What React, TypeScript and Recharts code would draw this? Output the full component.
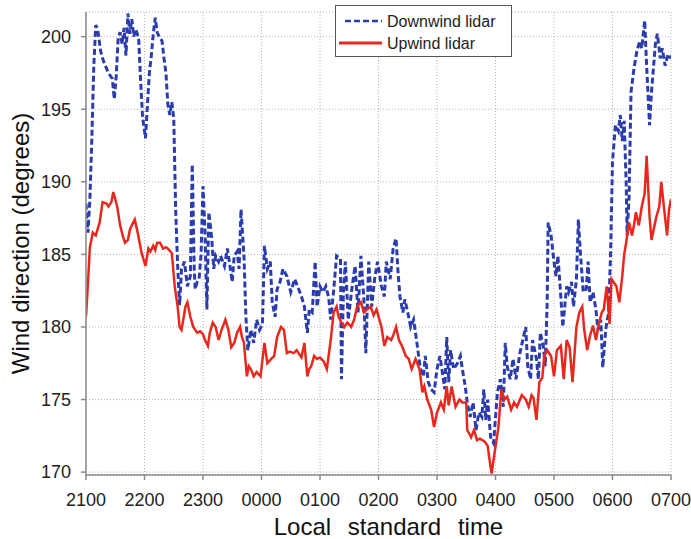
import React from 'react';
import { LineChart, Line, XAxis, YAxis, CartesianGrid, Legend, Label } from 'recharts';

// minutes after 2100 local standard time
const downwindMinutes = [
  0, 2, 4, 6, 8, 10, 12, 15, 18, 23, 27, 29, 31, 33, 35, 37, 39, 41, 43, 45, 47, 49, 51, 54, 56, 58,
  61, 63, 65, 67, 69, 71, 73, 75, 78, 80, 82, 84, 86, 88, 90, 92, 94, 96, 98, 101, 104, 107, 109, 111,
  112, 114, 116, 118, 120, 122, 124, 126, 129, 131, 133, 136, 138, 142, 145, 147, 150, 152, 155, 157,
  159, 162, 164, 166, 169, 172, 175, 178, 181, 183, 186, 189, 191, 194, 196, 199, 202, 206, 210, 214,
  217, 221, 224, 227, 229, 232, 235, 237, 240, 243, 246, 249, 251, 254, 257, 261, 262, 264, 266, 269,
  273, 276, 279, 282, 285, 287, 290, 293, 296, 299, 303, 306, 308, 312, 315, 318, 320, 322, 325, 327,
  330, 333, 336, 339, 343, 346, 348, 351, 354, 357, 360, 363, 365, 368, 370, 372, 374, 377, 381, 384,
  386, 389, 391, 394, 397, 400, 403, 406, 408, 410, 412, 415, 418, 422, 425, 428, 430, 432, 435, 438,
  441, 443, 445, 448, 451, 453, 456, 458, 462, 464, 466, 469, 471, 473, 474, 477, 480, 482, 484, 487,
  489, 491, 493, 495, 498, 500, 503, 505, 507, 510, 513, 515, 517, 520, 523, 525, 528, 530, 533, 536,
  538, 540, 543, 546, 548, 550, 552, 554, 555, 557, 559, 562, 565, 568, 570, 573, 575, 578, 580, 584,
  586, 589, 591, 594, 597, 600,
];
const downwindDirection = [
  188.5, 186.5, 188.8, 193, 198, 200.8, 200.5, 199, 198.3, 197.5, 197.1, 195.7, 197.3, 199.9, 200.3, 199.5,
  200.6, 198.7, 201.6, 200.2, 201.2, 200, 200.5, 199.9, 197, 194.5, 193, 195.3, 197.5, 198.7, 200.2, 201.3,
  200.3, 200, 199.7, 198.5, 197.5, 195.3, 194.6, 195.5, 194.4, 188, 184.2, 181.5, 184, 184.5, 182.8, 183.5,
  191.2, 184, 182.6, 183.1, 183.3, 185, 189.7, 186.7, 181.2, 187.9, 186.1, 184, 184.9, 184.5, 184.9, 184.2,
  185.4, 184.5, 183.1, 184.9, 185.2, 184, 188.1, 184.9, 180.7, 178.4, 179.8, 178.9, 180.5, 179.8, 180.2,
  185.6, 184, 184.5, 181.7, 180.7, 182.6, 183.1, 184, 183.5, 182.4, 183.3, 182.8, 182.1, 181.4, 179.6,
  181.2, 181, 184.5, 181.4, 182.8, 182.4, 182.8, 182, 180.5, 182.5, 184.9, 184.7, 176.4, 182.4, 184.5,
  180.5, 182.8, 184.2, 181, 184.9, 181.9, 178.2, 184.5, 181.4, 183.3, 184.5, 182.8, 182.1, 184.5, 183.3,
  185.4, 186.1, 183.8, 182.1, 181, 181.9, 181, 180, 180.5, 179.1, 177.1, 176.6, 178, 176.2, 175.7, 175.5,
  177.1, 178, 177.1, 175.7, 179.3, 176.2, 178.4, 177.1, 177.5, 178, 177.1, 175.9, 174.8, 173.8, 174.8,
  172.9, 174.1, 173.8, 175.7, 173.6, 175, 172.4, 172, 175.5, 176.4, 174.5, 178.9, 177.3, 176.4, 177.8,
  176.4, 177.3, 178.2, 179.1, 180, 177.3, 176.4, 179.1, 177.8, 176.4, 179.6, 178.7, 177.3, 181.7, 187.2,
  186.3, 184.5, 183.5, 184.9, 182.1, 180, 181.4, 182.8, 182.4, 183.1, 181.4, 183.3, 187.4, 185.2, 182.4,
  182.6, 184.5, 181.7, 182.4, 181.2, 179.8, 180.5, 177.2, 179.8, 181, 185, 191.4, 193.9, 193.5, 194.6,
  192.8, 194.2, 190, 186.3, 189, 196.2, 197.8, 199, 199.7, 199.2, 201.1, 198, 193.9, 196.2, 199.5, 200.2,
  198.5, 199.2, 198, 198.8, 198.5,
];

const upwindMinutes = [
  0, 2, 4, 7, 10, 14, 17, 21, 23, 26, 28, 30, 32, 35, 38, 40, 43, 45, 47, 50, 53, 57, 61, 64, 66, 69,
  71, 73, 76, 79, 82, 84, 88, 91, 94, 96, 98, 102, 104, 107, 110, 114, 117, 120, 122, 125, 127, 130,
  133, 136, 139, 143, 146, 149, 152, 155, 158, 160, 162, 165, 167, 169, 172, 175, 179, 183, 186, 190,
  193, 196, 200, 203, 206, 209, 213, 216, 221, 224, 227, 229, 231, 234, 237, 240, 244, 247, 251, 254,
  257, 259, 262, 265, 268, 272, 275, 278, 282, 285, 288, 292, 295, 298, 303, 306, 309, 313, 315, 318,
  321, 324, 328, 331, 334, 338, 342, 345, 347, 350, 354, 357, 360, 364, 367, 370, 372, 375, 379, 383,
  386, 390, 391, 395, 398, 401, 404, 409, 412, 414, 416, 419, 423, 426, 429, 432, 436, 439, 442, 447,
  451, 454, 457, 459, 462, 465, 468, 470, 473, 477, 480, 483, 487, 490, 493, 496, 499, 503, 506, 509,
  511, 514, 517, 520, 523, 526, 529, 531, 534, 537, 539, 544, 547, 550, 552, 554, 557, 560, 562, 564,
  567, 570, 573, 575, 578, 580, 585, 588, 590, 593, 596, 598, 600,
];
const upwindDirection = [
  180.7, 183, 185.5, 186.5, 186.3, 187.2, 188.6, 188.5, 188.3, 188.6, 189.3, 188.8, 188.3, 187, 186.2,
  185.8, 186, 186.7, 187, 187.4, 186.5, 185.1, 184.2, 185.4, 185.2, 185.6, 185.3, 185.8, 185.8, 185.4,
  185.5, 185.4, 185.1, 182.8, 181.4, 180, 179.8, 181.4, 181.7, 180.7, 180, 179.6, 179.7, 179.5, 179.1,
  178.7, 179.6, 180.3, 180, 179.1, 179.8, 180.5, 179.8, 178.6, 178.9, 179.6, 180, 179.3, 178.9, 176.6,
  177.3, 177.1, 176.6, 176.9, 176.6, 178.9, 177.5, 177.8, 178, 179.3, 180, 179.8, 178.2, 178.3, 178.2,
  178.4, 177.9, 178.9, 176.6, 177.1, 177.3, 178, 177.8, 177.9, 177.6, 177.1, 179.1, 181, 181.4, 180.7,
  180.3, 180, 180.3, 180, 180.5, 181.4, 181.7, 181, 181.2, 181.4, 180.8, 181.2, 180, 178.7, 179.3,
  179.1, 179.4, 180, 179.1, 178.7, 178, 177.8, 177.1, 177.8, 177.1, 175.5, 175.9, 175, 174.3, 173.1,
  174.1, 174.8, 174.3, 175.9, 174.6, 175.9, 174.5, 175, 174.8, 174.8, 172.9, 172.4, 172.9, 172.2, 172.3,
  172.1, 171.8, 170.8, 169.9, 171.3, 173.1, 175.7, 175, 175.2, 174.3, 174.8, 174.5, 175.3, 175, 174.5,
  175.3, 175.1, 173.6, 176.2, 176.5, 178, 178.4, 178, 176.6, 178.4, 178.7, 176.4, 179.1, 178.6, 176.2,
  180, 181, 181.4, 179.8, 178.4, 179.4, 180.1, 179.1, 180.2, 181, 181.2, 182.8, 180.2, 183.3, 182.8,
  181.7, 183.5, 185, 185.8, 187.2, 186.3, 187, 187.9, 187, 188.3, 189.2, 191.8, 187.6, 186, 187.6,
  188.3, 190, 188.1, 186.3, 188.1, 188.8,
];

const hourTicks = [0, 60, 120, 180, 240, 300, 360, 420, 480, 540, 600];
const hourLabels = ['2100', '2200', '2300', '0000', '0100', '0200', '0300', '0400', '0500', '0600', '0700'];
const directionTicks = [170, 175, 180, 185, 190, 195, 200];

const downwindData = downwindMinutes.map((minute, i) => ({ minute, direction: downwindDirection[i] }));
const upwindData = upwindMinutes.map((minute, i) => ({ minute, direction: upwindDirection[i] }));

const font = "'Liberation Sans', Arial, sans-serif";
const axisGray = '#8a8a8a';

const LegendBox = ({ payload }: any) => (
  <div style={{ width: 177, height: 52, boxSizing: 'border-box', border: '1px solid #555', background: '#fff' }}>
    <svg width={175} height={50}>
      {(payload || []).map((item: any, i: number) => (
        <g key={item.value}>
          <line
            x1={i === 0 ? 9 : 3}
            x2={46}
            y1={15 + i * 22}
            y2={15 + i * 22}
            stroke={item.color}
            strokeWidth={i === 0 ? 2.5 : 3}
            strokeDasharray={i === 0 ? '6 3' : undefined}
          />
          <text x={51} y={15 + i * 22} dy="0.35em" fontSize={16} fontFamily={font} fill="#222">
            {item.value}
          </text>
        </g>
      ))}
    </svg>
  </div>
);

export default function App() {
  return (
    <div style={{ position: 'absolute', left: 0, top: 0, background: '#fff' }}>
      <LineChart width={691} height={539} margin={{ top: 12, right: 20, bottom: 0, left: 0 }}>
        <CartesianGrid stroke="#b5b5b5" strokeDasharray="1 2" />
        <XAxis
          type="number"
          dataKey="minute"
          domain={[0, 600]}
          ticks={hourTicks}
          tickFormatter={(v: number) => hourLabels[hourTicks.indexOf(v)]}
          allowDataOverflow
          height={64}
          stroke={axisGray}
          strokeWidth={1.5}
          tickSize={5}
          tickMargin={13}
          tick={{ fontSize: 18, fill: '#222', fontFamily: font }}
        >
          <Label
            value="Local standard time"
            position="center"
            dx={10}
            dy={19}
            style={{ fontSize: 24, fill: '#111', fontFamily: font, wordSpacing: 10 }}
          />
        </XAxis>
        <YAxis
          type="number"
          domain={[169.8, 201.7]}
          ticks={directionTicks}
          allowDataOverflow
          width={86}
          stroke={axisGray}
          strokeWidth={1.5}
          tickSize={5}
          tickMargin={10}
          tick={{ fontSize: 18, fill: '#222', fontFamily: font }}
        >
          <Label
            value="Wind direction (degrees)"
            angle={-90}
            position="center"
            dx={-23}
            style={{ fontSize: 24, fill: '#111', fontFamily: font, textAnchor: 'middle' }}
          />
        </YAxis>
        <Legend
          layout="vertical"
          align="center"
          verticalAlign="middle"
          wrapperStyle={{ left: 335, top: 5, width: 177, height: 52 }}
          content={<LegendBox />}
        />
        <Line
          data={downwindData}
          dataKey="direction"
          name="Downwind lidar"
          stroke="#2b3cae"
          strokeWidth={3}
          strokeDasharray="6 3"
          dot={false}
          isAnimationActive={false}
        />
        <Line
          data={upwindData}
          dataKey="direction"
          name="Upwind lidar"
          stroke="#e8281e"
          strokeWidth={2.5}
          dot={false}
          isAnimationActive={false}
        />
      </LineChart>
    </div>
  );
}
